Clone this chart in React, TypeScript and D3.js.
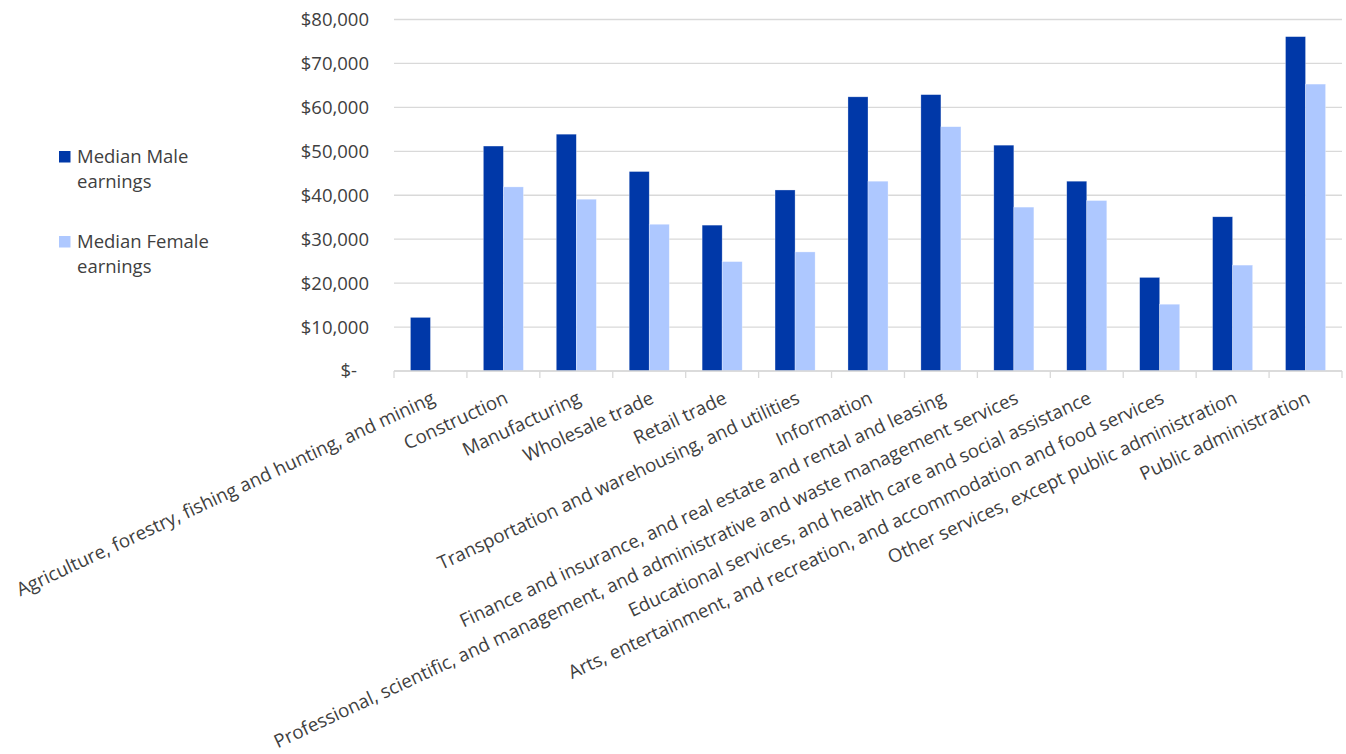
import React from "react";
import * as d3 from "d3";

const categories = [
  "Agriculture, forestry, fishing and hunting, and mining",
  "Construction",
  "Manufacturing",
  "Wholesale trade",
  "Retail trade",
  "Transportation and warehousing, and utilities",
  "Information",
  "Finance and insurance, and real estate and rental and leasing",
  "Professional, scientific, and management, and administrative and waste management services",
  "Educational services, and health care and social assistance",
  "Arts, entertainment, and recreation, and accommodation and food services",
  "Other services, except public administration",
  "Public administration",
];

const maleEarnings = [12200, 51200, 53900, 45400, 33200, 41200, 62400, 62900, 51400, 43200, 21300, 35100, 76100];
const femaleEarnings = [0, 41900, 39100, 33400, 24900, 27100, 43200, 55600, 37300, 38800, 15200, 24100, 65300];

const seriesNames = ["Median Male earnings", "Median Female earnings"];
const legendLines = [["Median Male", "earnings"], ["Median Female", "earnings"]];
const yTicks = [0, 10000, 20000, 30000, 40000, 50000, 60000, 70000, 80000];

const W = 1346;
const H = 754;
const margin = { left: 394, right: 4, top: 19.5, bottom: 383 };
const colors = ["#0038A8", "#AEC8FF"];
const FONT = "'Open Sans', 'Noto Sans', sans-serif";
const TEXT = "#404040";
const GRID = "#d9d9d9";

export default function App() {
  const x = d3
    .scaleBand<string>()
    .domain(categories)
    .range([margin.left, W - margin.right])
    .padding(0);
  const sub = d3
    .scaleBand<string>()
    .domain(seriesNames)
    .range([0, x.bandwidth()])
    .paddingInner(0)
    .paddingOuter(0.82);
  const y = d3
    .scaleLinear()
    .domain([0, 80000])
    .range([H - margin.bottom, margin.top]);

  const fmt = (v: number) => (v === 0 ? "$-" : "$" + d3.format(",")(v));
  const series = [maleEarnings, femaleEarnings];
  const baseY = y(0);
  const boundaries = categories.map((c) => x(c) as number).concat([W - margin.right]);

  return (
    <svg
      width={W}
      height={H}
      style={{ position: "absolute", left: 0, top: 0, background: "#fff" }}
      fontFamily={FONT}
    >
      {yTicks.map((t) => (
        <line
          key={"g" + t}
          x1={margin.left}
          x2={W - margin.right}
          y1={y(t)}
          y2={y(t)}
          stroke={GRID}
          strokeWidth={1.3}
        />
      ))}
      {yTicks.map((t) => (
        <text
          key={"yl" + t}
          x={t === 0 ? 357 : 369}
          y={y(t)}
          dy="0.35em"
          textAnchor="end"
          fontSize={18.5}
          fill={TEXT}
        >
          {fmt(t)}
        </text>
      ))}
      {series.map((vals, si) =>
        categories.map((c, ci) => {
          const v = vals[ci];
          if (!v) return null;
          const bx = (x(c) as number) + (sub(seriesNames[si]) as number);
          return (
            <rect
              key={si + "-" + ci}
              x={bx}
              y={y(v)}
              width={sub.bandwidth()}
              height={baseY - y(v)}
              fill={colors[si]}
              stroke="#ffffff"
              strokeOpacity={0.5}
              strokeWidth={0.6}
            />
          );
        })
      )}
      <line x1={margin.left} x2={W - margin.right} y1={baseY} y2={baseY} stroke={GRID} strokeWidth={1.3} />
      {boundaries.map((bx, i) => (
        <line key={"t" + i} x1={bx} x2={bx} y1={baseY} y2={baseY + 7} stroke={GRID} strokeWidth={1.3} />
      ))}
      {categories.map((c) => {
        const cx = (x(c) as number) + x.bandwidth() / 2;
        return (
          <text
            key={"xl" + c}
            transform={`translate(${cx - 1},${baseY + 17}) rotate(-25)`}
            textAnchor="end"
            dominantBaseline="hanging"
            fontSize={18.7}
            fill={TEXT}
          >
            {c}
          </text>
        );
      })}
      {legendLines.map((lines, i) => {
        const top = i === 0 ? 151 : 236;
        return (
          <g key={"lg" + i}>
            <rect x={59} y={top} width={11.5} height={11.5} fill={colors[i]} />
            {lines.map((ln, j) => (
              <text key={j} x={77} y={top + 11.5 + j * 25.6} fontSize={18.5} fill={TEXT}>
                {ln}
              </text>
            ))}
          </g>
        );
      })}
    </svg>
  );
}
